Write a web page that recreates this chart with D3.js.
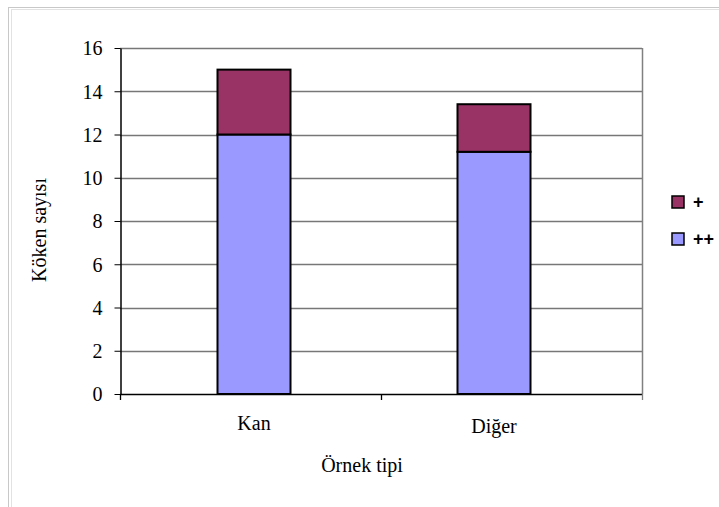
<!DOCTYPE html>
<html>
<head>
<meta charset="utf-8">
<script src="https://cdn.jsdelivr.net/npm/d3@7"></script>
<style>
  html, body { margin: 0; padding: 0; background: #fff; }
  svg { display: block; }
</style>
</head>
<body>
<svg id="chart" width="719" height="507"></svg>
<script>
// Sample types and strain counts per positivity grade
const categories = ["Kan", "Diğer"];
const seriesNames = ["++", "+"];
const valuesPlusPlus = [12, 11.2];
const valuesPlus = [3, 2.2];
const yTicks = [0, 2, 4, 6, 8, 10, 12, 14, 16];
const colors = { "++": "#9999FF", "+": "#993366" };

const svg = d3.select("#chart");
const W = 719, H = 507;
const serif = "'Liberation Serif', 'Times New Roman', serif";
const sans = "'Liberation Sans', Arial, sans-serif";

// outer chart frame
svg.append("rect").attr("x", 8.5).attr("y", 7.5).attr("width", W).attr("height", H)
  .attr("fill", "none").attr("stroke", "#c8c8c8").attr("stroke-width", 1);
svg.append("rect").attr("x", 11.5).attr("y", 9.5).attr("width", W).attr("height", H)
  .attr("fill", "none").attr("stroke", "#e2e2e2").attr("stroke-width", 1);

const plot = { left: 120, right: 642, top: 48, bottom: 394 };

// category bands for the axis ticks, and bar centres within the plot
const x = d3.scaleBand().domain(categories).range([plot.left, plot.right]);
const xBar = d3.scalePoint().domain(categories).range([254, 494]);
const y = d3.scaleLinear().domain([0, 16]).range([plot.bottom, plot.top]);

const rows = categories.map((c, i) => ({ cat: c, "++": valuesPlusPlus[i], "+": valuesPlus[i] }));
const stacked = d3.stack().keys(seriesNames)(rows);

// gridlines
svg.append("g").selectAll("line").data(yTicks.filter(t => t > 0)).join("line")
  .attr("x1", plot.left).attr("x2", plot.right)
  .attr("y1", d => Math.round(y(d)) + 0.5).attr("y2", d => Math.round(y(d)) + 0.5)
  .attr("stroke", "#777").attr("stroke-width", 1.5);

// right plot border
svg.append("line").attr("x1", plot.right + 0.5).attr("x2", plot.right + 0.5)
  .attr("y1", plot.top).attr("y2", plot.bottom)
  .attr("stroke", "#808080").attr("stroke-width", 1.5);

// bars
const barW = 73;
svg.append("g").selectAll("g").data(stacked).join("g")
  .attr("fill", d => colors[d.key])
  .selectAll("rect").data(d => d).join("rect")
  .attr("x", d => xBar(d.data.cat) - barW / 2)
  .attr("width", barW)
  .attr("y", d => y(d[1]))
  .attr("height", d => y(d[0]) - y(d[1]))
  .attr("stroke", "#000").attr("stroke-width", 2);

// y axis
const yAxis = d3.axisLeft(y).tickValues(yTicks).tickSize(6).tickPadding(12).tickSizeOuter(0);
const gy = svg.append("g").attr("transform", `translate(${plot.left + 0.5},0)`).call(yAxis);
gy.attr("font-family", null).attr("font-size", null);
gy.select(".domain").attr("stroke", "#000").attr("stroke-width", 1.5);
gy.selectAll(".tick line").attr("stroke", "#000");
gy.selectAll(".tick text").attr("fill", "#000").attr("dy", "0.34em")
  .style("font-family", serif).style("font-size", "20px");

// x axis baseline and category ticks
svg.append("line").attr("x1", plot.left).attr("x2", plot.right)
  .attr("y1", plot.bottom + 0.5).attr("y2", plot.bottom + 0.5)
  .attr("stroke", "#000").attr("stroke-width", 1.5);
const xTickPos = [plot.left, ...categories.slice(1).map(c => x(c)), plot.right];
svg.append("g").selectAll("line").data(xTickPos).join("line")
  .attr("x1", d => d + 0.5).attr("x2", d => d + 0.5)
  .attr("y1", plot.bottom).attr("y2", plot.bottom + 6)
  .attr("stroke", (d, i) => i === xTickPos.length - 1 ? "#808080" : "#000").attr("stroke-width", 1.3);

// category labels
const labelY = [430, 433];
svg.append("g").selectAll("text").data(categories).join("text")
  .attr("x", d => xBar(d))
  .attr("y", (d, i) => labelY[i])
  .attr("text-anchor", "middle")
  .style("font-family", serif).style("font-size", "20px")
  .text(d => d);

// axis titles
svg.append("text").attr("x", 362).attr("y", 472)
  .attr("text-anchor", "middle")
  .style("font-family", serif).style("font-size", "20px")
  .text("Örnek tipi");
svg.append("text").attr("transform", "translate(46,230) rotate(-90)")
  .attr("text-anchor", "middle")
  .style("font-family", serif).style("font-size", "20px")
  .text("Köken sayısı");

// legend
const legendItems = ["+", "++"];
const lg = svg.append("g").selectAll("g").data(legendItems).join("g")
  .attr("transform", (d, i) => `translate(672,${196 + i * 37})`);
lg.append("rect").attr("width", 12).attr("height", 12)
  .attr("fill", d => colors[d]).attr("stroke", "#000").attr("stroke-width", 1.5);
lg.append("text").attr("x", 21).attr("y", 12)
  .style("font-family", sans).style("font-size", "18px").style("font-weight", "bold")
  .text(d => d);
</script>
</body>
</html>
